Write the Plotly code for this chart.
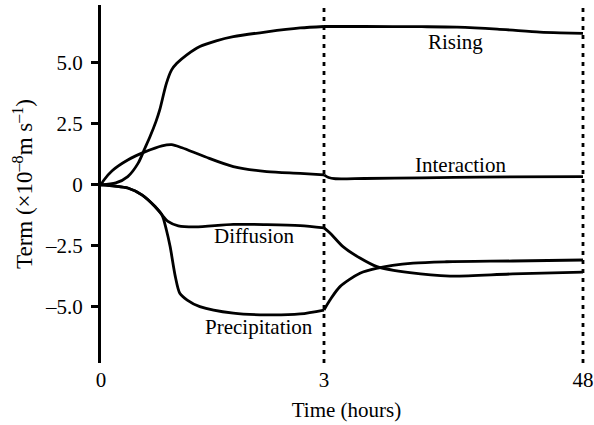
import plotly.graph_objects as go

# ---- time axis: 0-3 h at full scale, 3-48 h compressed into a second segment ----
SPLIT_H = 3.0
LATE_STRETCH = 259 / 223          # width of the 3-48 h segment relative to the 0-3 h one
LATE_SCALE = SPLIT_H * LATE_STRETCH / (48 - SPLIT_H)


def tpos(hours):
    return [h if h <= SPLIT_H else SPLIT_H + (h - SPLIT_H) * LATE_SCALE for h in hours]


# ---- budget terms (x1e-8 m s^-1), each split at 3 h ----
rising_early_t = [0, 0.2, 0.36, 0.5, 0.59, 0.66, 0.74, 0.79, 0.88, 0.95, 1.02, 1.15, 1.33, 1.55, 1.78, 2.23, 2.68, 3]
rising_early = [0, 0.08, 0.34, 0.89, 1.5, 1.98, 2.6, 3.07, 4.16, 4.71, 4.98, 5.32, 5.67, 5.9, 6.07, 6.27, 6.43, 6.49]
rising_late_t = [3, 10, 20, 26.1, 33.1, 40.5, 44, 48]
rising_late = [6.49, 6.49, 6.48, 6.46, 6.38, 6.26, 6.23, 6.21]

inter_early_t = [0, 0.04, 0.15, 0.36, 0.59, 0.82, 0.95, 1.09, 1.40, 1.78, 2.23, 2.68, 3]
inter_early = [0, 0.2, 0.58, 1.02, 1.35, 1.6, 1.65, 1.52, 1.15, 0.75, 0.54, 0.47, 0.41]
inter_late_t = [3, 3.8, 5, 10, 20, 30, 48]
inter_late = [0.41, 0.3, 0.25, 0.26, 0.29, 0.32, 0.34]

diff_early_t = [0, 0.19, 0.36, 0.55, 0.73, 0.82, 0.9, 1.04, 1.27, 1.78, 2.23, 2.68, 3]
diff_early = [0, -0.05, -0.13, -0.41, -0.9, -1.23, -1.5, -1.68, -1.72, -1.62, -1.63, -1.67, -1.76]
diff_late_t = [3, 4.04, 6.3, 9.25, 12.2, 17.9, 24.9, 35.8, 48]
diff_late = [-1.76, -1.97, -2.53, -3.0, -3.35, -3.6, -3.74, -3.65, -3.58]

prec_early_t = [0, 0.19, 0.36, 0.55, 0.73, 0.82, 0.88, 0.93, 1.0, 1.06, 1.16, 1.33, 1.78, 2.23, 2.68, 3]
prec_early = [0, -0.05, -0.13, -0.41, -0.9, -1.23, -1.85, -2.53, -3.76, -4.44, -4.72, -4.99, -5.26, -5.33, -5.29, -5.13]
prec_late_t = [3, 4.04, 5.78, 9.25, 12.1, 18.5, 24.3, 35.8, 48]
prec_late = [-5.13, -4.72, -4.17, -3.62, -3.42, -3.21, -3.15, -3.12, -3.08]

# axis labels / ticks
label_hours = [0, 3, 48]
label_text = ["0", "3", "48"]
minor_hours = [1, 2, 3, 18, 33, 48]
marker_hours = [3, 48]
y_ticks = [-5, -2.5, 0, 2.5, 5]
y_ticktext = ["\u20135.0", "\u20132.5", "0", "2.5", "5.0"]

# curve labels: (text, hours, value)
curve_labels = [
    ("Rising", 25.9, 5.86),
    ("Interaction", 26.8, 0.82),
    ("Diffusion", 2.06, -2.09),
    ("Precipitation", 2.13, -5.82),
]

Y_MIN, Y_MAX = -7.3, 7.37
FONT = "Liberation Serif"
INK = "black"
TXT = 21

fig = go.Figure()
segments = [
    (rising_early_t, rising_early), (rising_late_t, rising_late),
    (inter_early_t, inter_early), (inter_late_t, inter_late),
    (diff_early_t, diff_early), (diff_late_t, diff_late),
    (prec_early_t, prec_early), (prec_late_t, prec_late),
]
for t, v in segments:
    fig.add_trace(go.Scatter(
        x=tpos(t), y=v, mode="lines",
        line=dict(color=INK, width=2.8, shape="spline", smoothing=0.8),
        showlegend=False, hoverinfo="skip",
    ))

for h in marker_hours:
    xv = tpos([h])[0]
    fig.add_shape(type="line", xref="x", yref="paper", x0=xv, x1=xv, y0=0, y1=1,
                  line=dict(color=INK, width=2.8, dash="4px,5px"))

for text, h, v in curve_labels:
    fig.add_annotation(x=tpos([h])[0], y=v, xref="x", yref="y", text=text,
                       showarrow=False, font=dict(family=FONT, size=TXT, color=INK))

x_max = tpos([48])[0] * 491 / 482

fig.update_layout(
    width=594, height=425,
    margin=dict(l=101, r=2, t=5, b=62),
    paper_bgcolor="white", plot_bgcolor="white",
    font=dict(family=FONT, size=TXT, color=INK),
    xaxis=dict(
        range=[0, x_max], tickvals=tpos(label_hours), ticktext=label_text,
        showline=False, ticks="", showgrid=False, zeroline=False,
        tickfont=dict(family=FONT, size=TXT, color=INK), ticklabelstandoff=2,
        title=dict(text="Time (hours)", standoff=11, font=dict(family=FONT, size=TXT, color=INK)),
        automargin=False,
    ),
    xaxis2=dict(
        range=[0, x_max], overlaying="x", anchor="free",
        position=(0 - Y_MIN) / (Y_MAX - Y_MIN), side="bottom",
        showline=True, linewidth=3, linecolor=INK,
        ticks="outside", ticklen=6, tickwidth=2.5, tickcolor=INK,
        tickvals=tpos(minor_hours), showticklabels=False,
        showgrid=False, zeroline=False, automargin=False,
    ),
    yaxis=dict(
        range=[Y_MIN, Y_MAX], tickvals=y_ticks, ticktext=y_ticktext,
        showline=True, linewidth=3, linecolor=INK,
        ticks="outside", ticklen=7, tickwidth=2.5, tickcolor=INK,
        showgrid=False, zeroline=False,
        tickfont=dict(family=FONT, size=TXT, color=INK), ticklabelstandoff=4,
        title=dict(text="Term (\u00d710<sup>\u20138</sup>m s<sup>\u20131</sup>)", standoff=6,
                   font=dict(family=FONT, size=23, color=INK)),
        automargin=False,
    ),
)

fig.write_html("out.html")
